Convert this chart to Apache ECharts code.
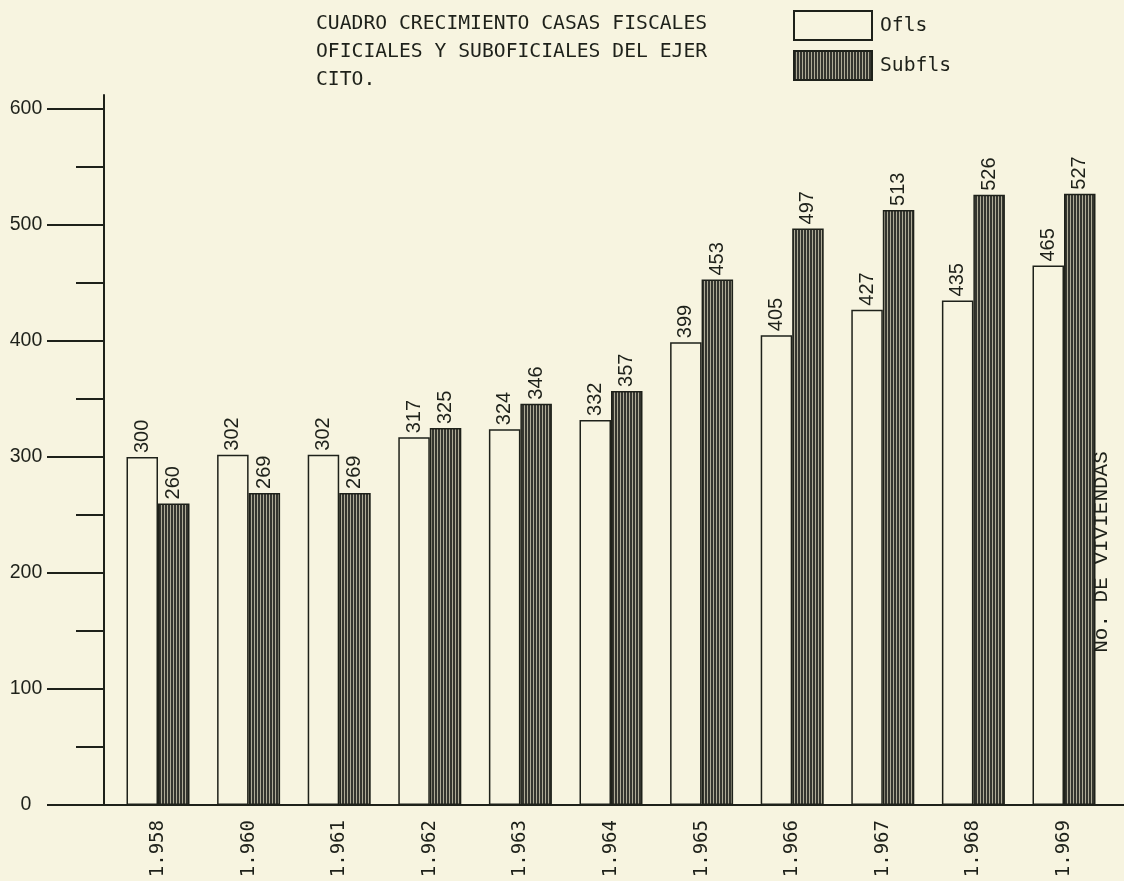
<!DOCTYPE html>
<html>
<head>
<meta charset="utf-8">
<title>Cuadro crecimiento casas fiscales</title>
<script src="https://cdn.jsdelivr.net/npm/echarts@6/dist/echarts.min.js"></script>
<style>
  html, body { margin: 0; padding: 0; background: #f7f4e0; }
  #chart { width: 1124px; height: 881px; }
</style>
</head>
<body>
<div id="chart"></div>
<script>
// Years (typed with the Spanish thousands dot)
const years = ['1.958', '1.960', '1.961', '1.962', '1.963', '1.964', '1.965', '1.966', '1.967', '1.968', '1.969'];
// Houses for officers
const ofls = [300, 302, 302, 317, 324, 332, 399, 405, 427, 435, 465];
// Houses for non-commissioned officers
const subfls = [260, 269, 269, 325, 346, 357, 453, 497, 513, 526, 527];
// Y axis scale
const yMin = 0, yMax = 600, yStep = 100;

const paper = '#f7f4e0';
const ink = '#1e211a';
const mono = '"DejaVu Sans Mono", "Liberation Mono", monospace';
const sans = '"Liberation Sans", Arial, sans-serif';

// Vertical line hatching used for the Subfls bars
function hatchCanvas() {
  const c = document.createElement('canvas');
  c.width = 3; c.height = 8;
  const g = c.getContext('2d');
  g.fillStyle = '#aeab97';
  g.fillRect(0, 0, 3, 8);
  g.fillStyle = '#34352f';
  g.fillRect(0, 0, 2, 8);
  return c;
}
const hatch = { image: hatchCanvas(), repeat: 'repeat' };

const chart = echarts.init(document.getElementById('chart'), null, { renderer: 'canvas' });

const valueLabel = {
  show: true,
  position: 'top',
  rotate: 90,
  align: 'left',
  verticalAlign: 'middle',
  distance: 4,
  fontFamily: sans,
  fontSize: 20,
  color: ink
};

chart.setOption({
  backgroundColor: paper,
  animation: false,
  title: {
    text: 'CUADRO CRECIMIENTO CASAS FISCALES\nOFICIALES Y SUBOFICIALES DEL EJER\nCITO.',
    left: 316,
    top: 10,
    padding: 0,
    textStyle: {
      fontFamily: mono,
      fontSize: 19.7,
      fontWeight: 'normal',
      lineHeight: 28,
      color: ink
    }
  },
  legend: {
    orient: 'vertical',
    left: 793,
    top: 10,
    padding: 0,
    itemWidth: 78,
    itemHeight: 29,
    itemGap: 9,
    icon: 'rect',
    textStyle: {
      fontFamily: mono,
      fontSize: 19.7,
      color: ink,
      padding: [0, 0, 0, 3]
    },
    data: ['Ofls', 'Subfls']
  },
  grid: [
    // bars
    { left: 112.7, right: 14.7, top: 109, bottom: 76 },
    // frame lines: y axis line and baseline
    { left: 104, right: 0, top: 95, bottom: 76 }
  ],
  xAxis: [
    {
      type: 'category',
      gridIndex: 0,
      data: years,
      axisLine: { show: false },
      axisTick: { show: false },
      axisLabel: {
        rotate: 90,
        margin: 15,
        fontFamily: mono,
        fontSize: 19,
        color: ink
      }
    },
    {
      type: 'value',
      gridIndex: 1,
      min: 0, max: 1,
      axisLine: { show: true, lineStyle: { color: ink, width: 2 } },
      axisTick: { show: false },
      axisLabel: { show: false },
      splitLine: { show: false }
    }
  ],
  yAxis: [
    {
      type: 'value',
      gridIndex: 0,
      min: yMin, max: yMax, interval: yStep,
      offset: 8.7,
      axisLine: { show: false },
      axisTick: { show: true, length: 57, lineStyle: { color: ink, width: 2 } },
      minorTick: { show: true, splitNumber: 2, length: 28, lineStyle: { color: ink, width: 2 } },
      splitLine: { show: false },
      axisLabel: {
        align: 'center',
        margin: 78,
        fontFamily: sans,
        fontSize: 19.5,
        color: ink
      }
    },
    {
      type: 'value',
      gridIndex: 1,
      min: 0, max: 1,
      axisLine: { show: true, lineStyle: { color: ink, width: 2 } },
      axisTick: { show: false },
      axisLabel: { show: false },
      splitLine: { show: false }
    }
  ],
  graphic: [
    {
      type: 'text',
      x: 1101,
      y: 552,
      rotation: Math.PI / 2,
      style: {
        text: 'No. DE VIVIENDAS',
        fontFamily: '"Liberation Mono", monospace',
        fontSize: 21,
        fill: ink,
        align: 'center',
        verticalAlign: 'middle'
      }
    }
  ],
  series: [
    {
      name: 'Ofls',
      type: 'bar',
      xAxisIndex: 0,
      yAxisIndex: 0,
      data: ofls,
      barWidth: 31.5,
      barGap: '0%',
      itemStyle: { color: paper, borderColor: ink, borderWidth: 1.5 },
      label: valueLabel
    },
    {
      name: 'Subfls',
      type: 'bar',
      xAxisIndex: 0,
      yAxisIndex: 0,
      data: subfls,
      barWidth: 31.5,
      barGap: '0%',
      itemStyle: { color: hatch, borderColor: ink, borderWidth: 1.5 },
      label: valueLabel
    }
  ]
});
</script>
</body>
</html>
